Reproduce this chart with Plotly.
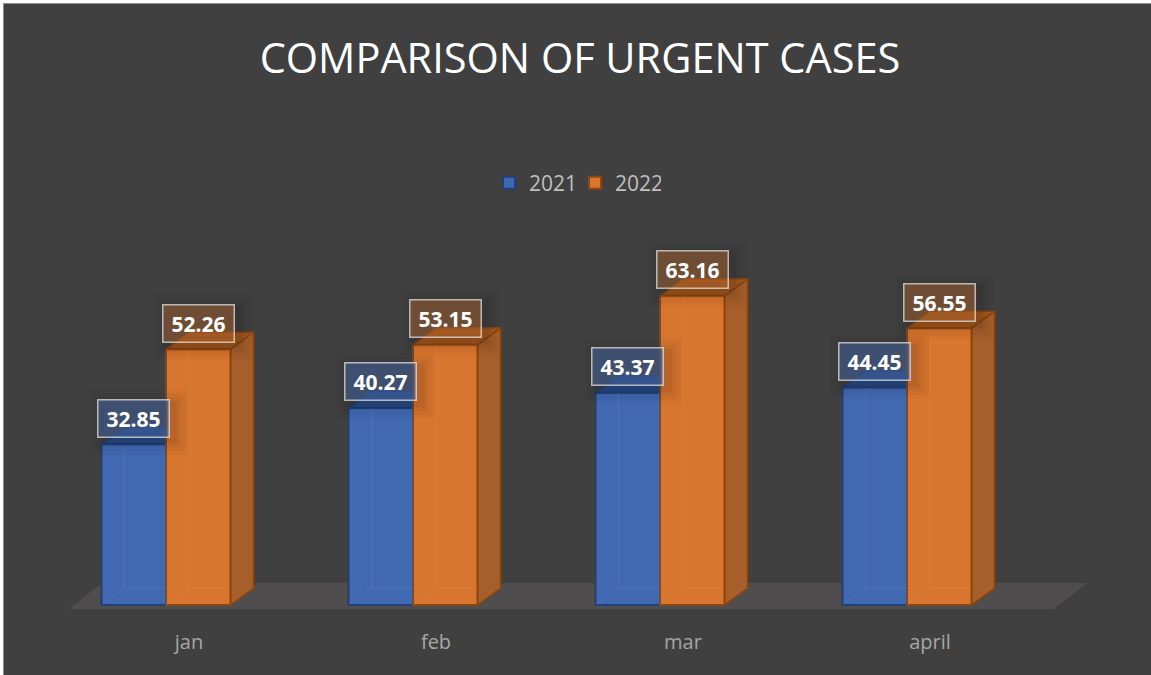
import plotly.graph_objects as go

months = ["jan", "feb", "mar", "april"]
series_names = ["2021", "2022"]
values_2021 = [32.85, 40.27, 43.37, 44.45]
values_2022 = [52.26, 53.15, 63.16, 56.55]

W, H = 1151, 675
PX_PER_X = 247.0          # pixels per category
PX_PER_Y = 4.895          # pixels per value unit
X0_PX, Y0_PX = 166.0, 605.0   # pixel of first category centre / of value 0
BOTTOM_PX = 622.0
BAR_W = 64.5 / PX_PER_X
DX, DY = 23 / PX_PER_X, 17 / PX_PER_Y

PANEL = "#404040"
styles = {
    "2021": dict(front="#4169b2", edge="#213f78", side="#34558f", top="#2b4c88"),
    "2022": dict(front="#d8752f", edge="#8c4612", side="#a65f2b", top="#a5591f"),
}

x_rng = [(0 - X0_PX) / PX_PER_X, (W - X0_PX) / PX_PER_X]
y_rng = [(Y0_PX - BOTTOM_PX) / PX_PER_Y, Y0_PX / PX_PER_Y]
xi = list(range(len(months)))


def poly(xs, ys, color, line):
    return go.Scatter(x=xs + xs[:1], y=ys + ys[:1], mode="lines", fill="toself",
                      fillcolor=color, line=dict(color=line, width=1.5),
                      showlegend=False, hoverinfo="skip", yaxis="y")


fig = go.Figure()

# floor of the 3D chart
fx = lambda p: (p - X0_PX) / PX_PER_X
fy = lambda p: (Y0_PX - p) / PX_PER_Y
fig.add_trace(go.Scatter(
    x=[fx(69), fx(1054), fx(1087), fx(102), fx(69)],
    y=[fy(609), fy(609), fy(583), fy(583), fy(609)],
    mode="lines", fill="toself", fillcolor="#4f4d4d", line=dict(width=0),
    showlegend=False, hoverinfo="skip", yaxis="y"))

# depth faces (below the fronts)
for s_idx, (name, vals) in enumerate(zip(series_names, [values_2021, values_2022])):
    st = styles[name]
    off = -BAR_W if s_idx == 0 else 0
    for i, v in zip(xi, vals):
        a, b = i + off, i + off + BAR_W
        fig.add_trace(poly([b, b + DX, b + DX, b], [0, DY, v + DY, v], st["side"], st["edge"]))
        fig.add_trace(poly([a, b, b + DX, a + DX], [v, v, v + DY, v + DY], st["top"], st["edge"]))

# front faces
for name, vals in zip(series_names, [values_2021, values_2022]):
    st = styles[name]
    fig.add_trace(go.Bar(x=xi, y=vals, name=name, yaxis="y2",
                         marker=dict(color=st["front"], line=dict(color=st["edge"], width=2))))

# faint back edges showing through the translucent fronts
for s_idx, (name, vals) in enumerate(zip(series_names, [values_2021, values_2022])):
    off = -BAR_W if s_idx == 0 else 0
    for i, v in zip(xi, vals):
        a, b = i + off, i + off + BAR_W
        fig.add_trace(go.Scatter(
            x=[a + DX, a + DX, b, None, a, a + DX], y=[v, DY, DY, None, 0, DY],
            mode="lines", line=dict(color="rgba(255,255,255,0.05)", width=1.5),
            showlegend=False, hoverinfo="skip", yaxis="y2"))

shapes = [dict(type="rect", xref="paper", yref="paper", layer="below",
               x0=3.5 / W, x1=1.01, y0=-1, y1=(BOTTOM_PX - 3.5) / BOTTOM_PX,
               fillcolor=PANEL, line=dict(color="#8c8c8c", width=1))]

annotations = []
for s_idx, (name, vals) in enumerate(zip(series_names, [values_2021, values_2022])):
    off = -BAR_W / 2 if s_idx == 0 else BAR_W / 2
    fillc = "rgba(70,100,160,0.55)" if s_idx == 0 else "rgba(190,110,50,0.42)"
    for i, v in zip(xi, vals):
        for grow, alpha in [(28, 0.025), (20, 0.03), (12, 0.04), (5, 0.05)]:
            shapes.append(dict(type="rect", xref="x", yref="y2", layer="above",
                               xsizemode="pixel", ysizemode="pixel",
                               xanchor=i + off, yanchor=v,
                               x0=-36 - grow / 2 + 5, x1=36 + grow / 2 + 5,
                               y0=26 - 19 - grow / 2 - 4, y1=26 + 19 + grow / 2 - 4,
                               fillcolor=f"rgba(0,0,0,{alpha})", line=dict(width=0)))
        annotations.append(dict(
            x=i + off, y=v, xref="x", yref="y2", yshift=26, showarrow=False,
            text=f"<b>{v:.2f}</b>", width=70, height=36, align="center", valign="middle",
            bgcolor=fillc, bordercolor="rgba(225,225,225,0.75)", borderwidth=1.5, borderpad=0,
            font=dict(family="Open Sans", size=21, color="#ffffff")))

fig.update_layout(
    width=W, height=H,
    margin=dict(l=0, r=0, t=0, b=H - BOTTOM_PX, pad=0),
    paper_bgcolor="#ffffff", plot_bgcolor="rgba(0,0,0,0)",
    barmode="group", bargap=1 - 2 * BAR_W,
    title=dict(text="COMPARISON OF URGENT CASES", x=580 / W, xanchor="center",
               y=1 - 58 / H, yanchor="middle",
               font=dict(family="Open Sans", size=41.5, color="#ffffff")),
    legend=dict(orientation="h", x=489 / W, xanchor="left", y=1 - 183 / BOTTOM_PX,
                yanchor="middle", bgcolor="rgba(0,0,0,0)",
                entrywidth=41, entrywidthmode="pixels",
                font=dict(family="Open Sans", size=21, color="#bfbfbf"),
                itemclick=False, itemdoubleclick=False),
    xaxis=dict(range=x_rng, tickvals=[i + DX for i in xi], ticktext=months, showgrid=False,
               zeroline=False, showline=False, ticks="", ticklabelstandoff=6,
               tickfont=dict(family="Open Sans", size=20, color="#a6a6a6")),
    yaxis=dict(range=y_rng, visible=False, showgrid=False, zeroline=False),
    yaxis2=dict(range=y_rng, overlaying="y", visible=False, showgrid=False, zeroline=False),
    shapes=shapes, annotations=annotations, showlegend=True,
)

fig.write_html("out.html", config={"displayModeBar": False},
               post_script="document.body.style.margin='0';document.body.style.overflow='hidden';")
